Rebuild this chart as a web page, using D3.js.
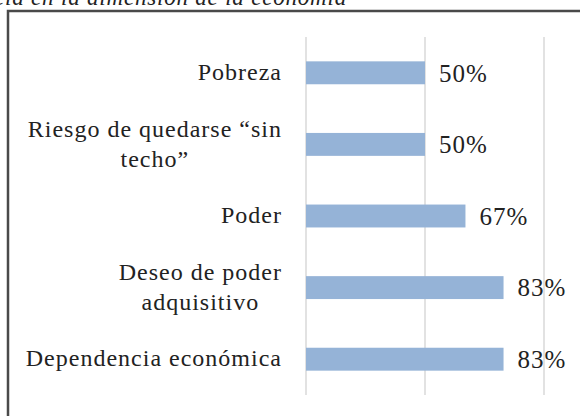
<!DOCTYPE html>
<html>
<head>
<meta charset="utf-8">
<script src="https://cdn.jsdelivr.net/npm/d3@7"></script>
<style>
  html, body { margin: 0; padding: 0; background: #fff; }
  svg { display: block; }
</style>
</head>
<body>
<div id="chart"></div>
<script>
// data
const categories = [
  ["Pobreza"],
  ["Riesgo de quedarse “sin", "techo”"],
  ["Poder"],
  ["Deseo de poder", "adquisitivo"],
  ["Dependencia económica"]
]
const values = [50, 50, 67, 83, 83]
const gridTicks = [0, 50, 100]
const caption = "Figura 4. Percepción de la violencia en la dimensión de la economía"

const width = 580
const height = 416
const fontFamily = "'Liberation Serif', 'Times New Roman', serif"

const svg = d3.select("#chart")
  .append("svg")
  .attr("width", width)
  .attr("height", height)

// caption, mostly cut off at the top like the source
svg.append("text")
  .attr("x", 347)
  .attr("y", 5)
  .attr("text-anchor", "end")
  .attr("font-family", fontFamily)
  .attr("font-style", "italic")
  .attr("font-size", "23px")
  .attr("letter-spacing", "0.8px")
  .attr("fill", "#222")
  .text(caption)

// chart frame
svg.append("rect")
  .attr("x", 8)
  .attr("y", 11)
  .attr("width", 600)
  .attr("height", 440)
  .attr("fill", "none")
  .attr("stroke", "#4a4a4a")
  .attr("stroke-width", 2.5)

const plotTop = 37
const plotBottom = 395

const x = d3.scaleLinear()
  .domain([0, 100])
  .range([306, 544])

const y = d3.scaleBand()
  .domain(d3.range(categories.length))
  .range([plotTop, plotBottom])
  .paddingInner(0.68)
  .paddingOuter(0.34)

// vertical gridlines
svg.append("g")
  .selectAll("line")
  .data(gridTicks)
  .enter()
  .append("line")
  .attr("x1", d => x(d))
  .attr("x2", d => x(d))
  .attr("y1", plotTop)
  .attr("y2", plotBottom)
  .attr("stroke", "#d9d9d9")
  .attr("stroke-width", 1.5)

// bars
svg.append("g")
  .selectAll("rect")
  .data(values)
  .enter()
  .append("rect")
  .attr("x", x(0))
  .attr("y", (d, i) => y(i))
  .attr("width", d => x(d) - x(0))
  .attr("height", y.bandwidth())
  .attr("fill", "#95b3d7")

// value labels
svg.append("g")
  .selectAll("text")
  .data(values)
  .enter()
  .append("text")
  .attr("x", d => x(d) + 14)
  .attr("y", (d, i) => y(i) + y.bandwidth() / 2)
  .attr("dy", "0.35em")
  .attr("font-family", fontFamily)
  .attr("font-size", "25px")
  .attr("letter-spacing", "1px")
  .attr("fill", "#222")
  .text(d => d + "%")

// category labels: right edge at 282, wrapped lines centred on each other
const labelRight = 282
const lineHeight = 30
categories.forEach((lines, i) => {
  const cy = y(i) + y.bandwidth() / 2
  const g = svg.append("g")
  const texts = lines.map((line, j) =>
    g.append("text")
      .attr("font-family", fontFamily)
      .attr("font-size", "24px")
      .attr("letter-spacing", "1px")
      .attr("fill", "#222")
      .attr("text-anchor", "middle")
      .attr("y", cy + (j - (lines.length - 1) / 2) * lineHeight)
      .attr("dy", "0.3em")
      .text(line)
  )
  const maxW = d3.max(texts, t => t.node().getComputedTextLength())
  texts.forEach(t => t.attr("x", labelRight - maxW / 2))
})
</script>
</body>
</html>
